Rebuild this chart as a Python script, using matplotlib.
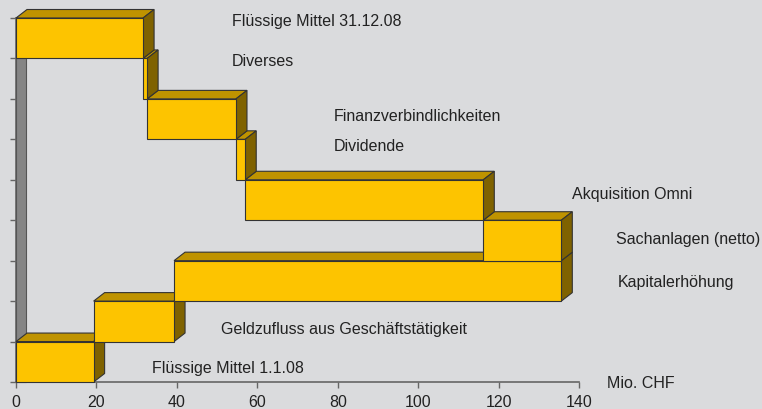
import matplotlib.pyplot as plt
from matplotlib.patches import Polygon, Rectangle

plt.rcParams['font.family'] = ['Liberation Sans', 'DejaVu Sans']

# Waterfall of liquid funds 2008 (Mio. CHF), bottom row first
labels = ["Flüssige Mittel 1.1.08", "Geldzufluss aus Geschäftstätigkeit",
          "Kapitalerhöhung", "Sachanlagen (netto)", "Akquisition Omni",
          "Dividende", "Finanzverbindlichkeiten", "Diverses",
          "Flüssige Mittel 31.12.08"]
starts = [0, 19.3, 39.3, 135.6, 116.2, 57.0, 54.7, 32.6, 0]
ends = [19.3, 39.3, 135.6, 116.2, 57.0, 54.7, 32.6, 31.6, 31.6]
x_ticks = [0, 20, 40, 60, 80, 100, 120, 140]

# where the labels sit (data coords)
label_x = [33.8, 51.0, 149.7, 149.2, 138.3, 79.1, 78.9, 53.7, 53.7]
label_y = [0.37, 1.33, 2.48, 3.54, 4.67, 5.85, 6.6, 7.96, 8.94]

bg = "#dadbdd"
front = "#fdc400"
top = "#bf9300"
side = "#7f6200"
fs = 11.5

fig = plt.figure(figsize=(7.62, 4.10), dpi=100, facecolor=bg)
ax = fig.add_axes([16 / 762, 27 / 410, 563 / 762, 364 / 410])
ax.set_facecolor(bg)
ax.set_xlim(0, 140)
ax.set_ylim(0, 9)

# depth of the fake 3D, in data units
dx = 11 / 4.02
dy = 8.5 / 40.44

# grey back wall
ax.add_patch(Rectangle((0, 0), dx * 0.92, 8, facecolor="#858585", edgecolor="#555555",
                       lw=0.8, zorder=1, clip_on=False))

for i in range(len(labels)):
    x0 = min(starts[i], ends[i])
    x1 = max(starts[i], ends[i])
    z = 2 + i
    ax.add_patch(Polygon([(x0, i + 1), (x1, i + 1), (x1 + dx, i + 1 + dy), (x0 + dx, i + 1 + dy)],
                         facecolor=top, edgecolor="#333333", lw=0.8, zorder=z, clip_on=False))
    ax.add_patch(Polygon([(x1, i), (x1 + dx, i + dy), (x1 + dx, i + 1 + dy), (x1, i + 1)],
                         facecolor=side, edgecolor="#333333", lw=0.8, zorder=z, clip_on=False))
    ax.add_patch(Rectangle((x0, i), x1 - x0, 1, facecolor=front, edgecolor="#333333",
                           lw=0.8, zorder=z, clip_on=False))
    ax.text(label_x[i], label_y[i], labels[i], fontsize=fs, color="#222222",
            va="center", ha="left", zorder=20, clip_on=False)

ax.text(147.0, -0.02, "Mio. CHF", fontsize=fs, color="#222222", va="center", ha="left")

for s in ["top", "right"]:
    ax.spines[s].set_visible(False)
for s in ["left", "bottom"]:
    ax.spines[s].set_color("#666666")
    ax.spines[s].set_linewidth(1.2)
    ax.spines[s].set_zorder(0)

ax.set_xticks(x_ticks)
ax.set_yticks(range(10))
ax.set_yticklabels([])
ax.tick_params(axis="both", direction="out", length=4, width=1, color="#666666",
               labelsize=fs, labelcolor="#222222")
ax.tick_params(axis="x", pad=5)

fig.savefig("out.png", dpi=100, facecolor=bg)
